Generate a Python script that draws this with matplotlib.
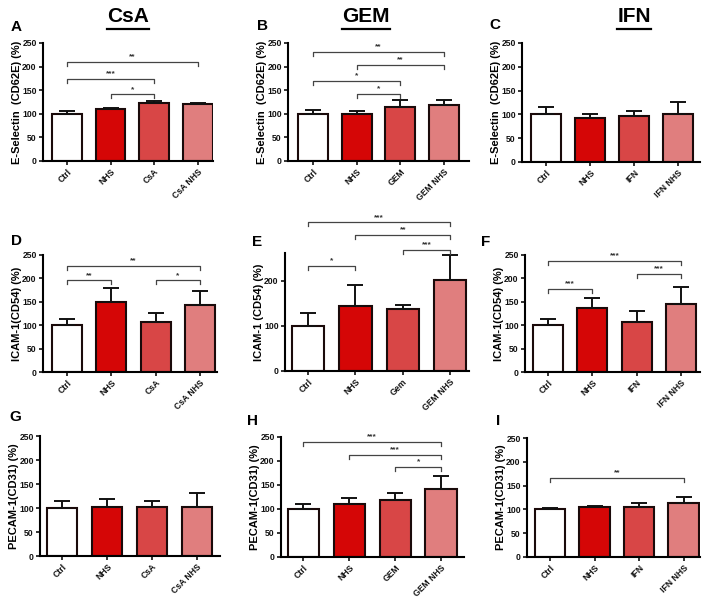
import matplotlib
matplotlib.use("Agg")
import matplotlib.pyplot as plt
from matplotlib.lines import Line2D

plt.rcParams['font.family'] = ['Liberation Sans', 'DejaVu Sans']
plt.rcParams['font.weight'] = 'bold'

W, H = 708, 604

# ---- data ----
cats_csa = ["Ctrl", "NHS", "CsA", "CsA NHS"]
cats_gem = ["Ctrl", "NHS", "GEM", "GEM NHS"]
cats_gem_e = ["Ctrl", "NHS", "Gem", "GEM NHS"]
cats_ifn = ["Ctrl", "NHS", "IFN", "IFN NHS"]

vals_A = [100, 110, 123, 120]; err_A = [5, 2, 4, 2]
vals_B = [100, 99, 114, 118];  err_B = [9, 6, 15, 12]
vals_C = [100, 92, 96, 100];   err_C = [15, 9, 12, 25]
vals_D = [100, 149, 107, 143]; err_D = [13, 30, 19, 30]
vals_E = [100, 144, 138, 201]; err_E = [28, 47, 9, 56]
vals_F = [101, 136, 106, 146]; err_F = [13, 23, 25, 36]
vals_G = [99, 103, 103, 103];  err_G = [16, 15, 12, 29]
vals_H = [101, 110, 119, 142]; err_H = [10, 12, 14, 26]
vals_I = [101, 106, 105, 114]; err_I = [1, 2, 8, 12]

sig_A = [(0, 3, 210, "**"), (0, 2, 174, "***"), (1, 2, 141, "*")]
sig_B = [(0, 3, 231, "**"), (1, 3, 203, "**"), (0, 2, 170, "*"), (1, 2, 143, "*")]
sig_C = []
sig_D = [(0, 3, 226, "**"), (0, 1, 196, "**"), (2, 3, 196, "*")]
sig_E = [(0, 3, 330, "***"), (1, 3, 302, "**"), (2, 3, 269, "***"), (0, 1, 233, "*")]
sig_F = [(0, 3, 238, "***"), (2, 3, 209, "***"), (0, 1, 177, "***")]
sig_G = []
sig_H = [(0, 3, 240, "***"), (1, 3, 213, "***"), (2, 3, 188, "*")]
sig_I = [(0, 3, 167, "**")]

ylab_E = "E-Selectin  (CD62E) (%)"
ylab_I = "ICAM-1(CD54) (%)"
ylab_I2 = "ICAM-1 (CD54) (%)"
ylab_P = "PECAM-1(CD31) (%)"

colors = ["#ffffff", "#d50606", "#d84646", "#e07e7e"]

fig = plt.figure(figsize=(W / 100, H / 100), dpi=100)

def px_axes(l, t, r, b):
    return fig.add_axes([l / W, 1 - b / H, (r - l) / W, (b - t) / H])

panels = [
    # letter, rect(l,t,r,b), cats, vals, errs, sigs, ylabel, ylim, yticks, xlim, letter pos
    ("A", (43, 43, 213, 161), cats_csa, vals_A, err_A, sig_A, ylab_E, 250, [0, 50, 100, 150, 200, 250], (-0.55, 3.35), (16, 27)),
    ("B", (288, 43, 469, 161), cats_gem, vals_B, err_B, sig_B, ylab_E, 250, [0, 50, 100, 150, 200, 250], (-0.57, 3.57), (262, 26)),
    ("C", (522, 43, 700, 162), cats_ifn, vals_C, err_C, sig_C, ylab_E, 250, [0, 50, 100, 150, 200, 250], (-0.55, 3.5), (495, 25)),
    ("D", (43, 255, 217, 372), cats_csa, vals_D, err_D, sig_D, ylab_I, 250, [0, 50, 100, 150, 200, 250], (-0.55, 3.39), (16, 241)),
    ("E", (285, 253, 469, 371), cats_gem_e, vals_E, err_E, sig_E, ylab_I2, 262, [0, 100, 200], (-0.49, 3.4), (257, 242)),
    ("F", (525, 255, 700, 372), cats_ifn, vals_F, err_F, sig_F, ylab_I, 250, [0, 50, 100, 150, 200, 250], (-0.52, 3.43), (486, 242)),
    ("G", (40, 436, 220, 556), cats_csa, vals_G, err_G, sig_G, ylab_P, 250, [0, 50, 100, 150, 200, 250], (-0.49, 3.51), (15, 417)),
    ("H", (281, 437, 464, 557), cats_gem, vals_H, err_H, sig_H, ylab_P, 250, [0, 50, 100, 150, 200, 250], (-0.49, 3.5), (253, 421)),
    ("I", (527, 438, 700, 557), cats_ifn, vals_I, err_I, sig_I, ylab_P, 250, [0, 50, 100, 150, 200, 250], (-0.52, 3.37), (498, 421)),
]

for letter, rect, cats, vals, errs, sigs, ylab, ymax, yticks, xlim, lpos in panels:
    ax = px_axes(*rect)
    x = list(range(len(cats)))
    ax.bar(x, vals, width=0.68, color=colors, edgecolor="#1a0a0a", linewidth=1.5, zorder=2)
    ax.errorbar(x, vals, yerr=[[0] * len(errs), errs], fmt="none", ecolor="#111111",
                elinewidth=1.4, capsize=5.5, capthick=1.4, zorder=3)
    ax.set_xlim(*xlim)
    ax.set_ylim(0, ymax)
    ax.set_yticks(yticks)
    ax.set_xticks(x)
    ax.set_xticklabels(cats, rotation=45, ha="right", rotation_mode="anchor",
                       fontsize=6.2, fontweight="bold")
    for lab in ax.get_yticklabels():
        lab.set_fontsize(6.2)
        lab.set_fontweight("bold")
    for s in ("top", "right"):
        ax.spines[s].set_visible(False)
    for s in ("left", "bottom"):
        ax.spines[s].set_linewidth(1.5)
    ax.tick_params(axis="both", direction="out", length=3, width=1.2, pad=1.5, colors="#111111")
    ax.set_ylabel(ylab, fontsize=8, fontweight="bold")
    wpx = rect[2] - rect[0]
    ax.yaxis.set_label_coords(-21 / wpx, 0.5)
    # significance brackets
    hpx = rect[3] - rect[1]
    drop = 4 * ymax / hpx
    for i, j, yb, txt in sigs:
        ax.plot([i, i, j, j], [yb - drop, yb, yb, yb - drop], color="#444444",
                linewidth=0.9, clip_on=False, zorder=4)
        ax.text((i + j) / 2, yb + 1.5 * ymax / hpx, txt, ha="center", va="bottom",
                fontsize=6, color="#333333", clip_on=False)
    fig.text(lpos[0] / W, 1 - lpos[1] / H, letter, ha="center", va="center",
             fontsize=11, fontweight="bold")

# column titles with underline
for title, cx in (("CsA", 128), ("GEM", 366), ("IFN", 634)):
    t = fig.text(cx / W, 1 - 17 / H, title, ha="center", va="center",
                 fontsize=15, fontweight="bold")
    fig.canvas.draw()
    bb = t.get_window_extent()
    y_line = bb.y0 - 2
    fig.add_artist(Line2D([bb.x0 / W, bb.x1 / W], [y_line / H, y_line / H],
                          transform=fig.transFigure, color="black", linewidth=1.6))

fig.savefig("out.png", dpi=100)
